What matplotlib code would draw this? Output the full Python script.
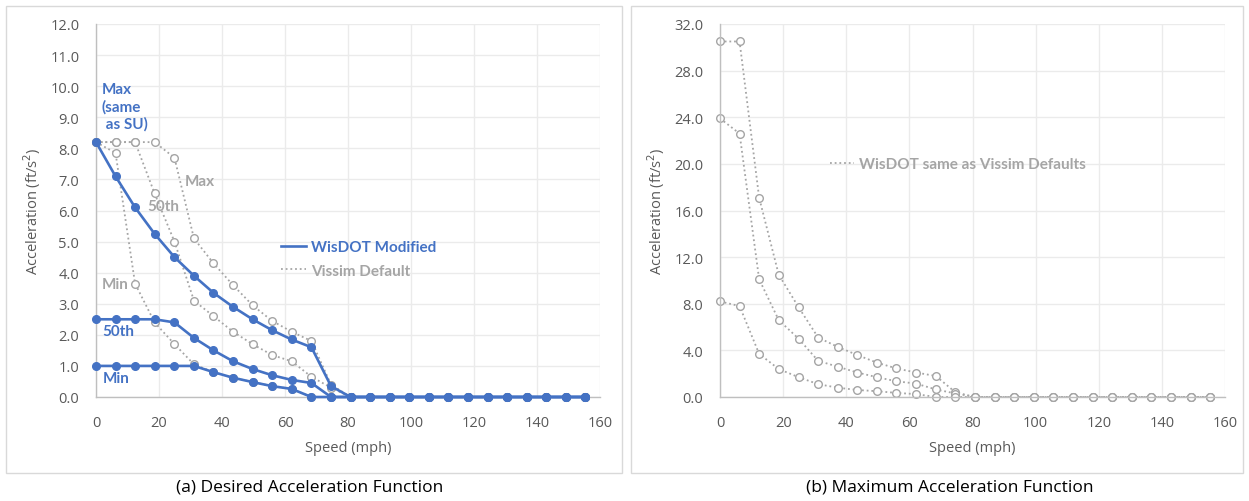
import matplotlib
matplotlib.use('Agg')
import matplotlib.pyplot as plt
from matplotlib.lines import Line2D
from matplotlib.patches import Rectangle

plt.rcParams['font.family'] = ['Open Sans', 'DejaVu Sans']

W, H = 1249, 502

speed = [0, 6.2, 12.4, 18.6, 24.9, 31.1, 37.3, 43.5, 49.7, 55.9, 62.1, 68.4, 74.6,
         80.8, 87.0, 93.2, 99.4, 105.6, 111.8, 118.1, 124.3, 130.5, 136.7, 142.9, 149.1, 155.3]
zeros13 = [0] * 13

# (a) desired acceleration
wis_max = [8.2, 7.1, 6.1, 5.25, 4.5, 3.9, 3.35, 2.9, 2.5, 2.15, 1.85, 1.6, 0.35] + zeros13
wis_50 = [2.5, 2.5, 2.5, 2.5, 2.4, 1.9, 1.5, 1.15, 0.9, 0.7, 0.55, 0.45, 0] + zeros13
wis_min = [1.0, 1.0, 1.0, 1.0, 1.0, 1.0, 0.8, 0.62, 0.48, 0.35, 0.26, 0, 0] + zeros13

vis_max = [8.2, 8.2, 8.2, 8.2, 7.7, 5.1, 4.3, 3.6, 2.95, 2.45, 2.1, 1.8, 0.4] + zeros13
vis_50 = [8.2, 8.2, 8.2, 6.55, 5.0, 3.1, 2.6, 2.1, 1.7, 1.35, 1.15, 0.65, 0.3] + zeros13
vis_min = [8.2, 7.85, 3.65, 2.4, 1.7, 1.05, 0.8, 0.62, 0.48, 0.35, 0.26, 0, 0] + zeros13

# (b) maximum acceleration
mx_max = [30.5, 30.5, 17.1, 10.5, 7.7, 5.1, 4.3, 3.6, 2.95, 2.45, 2.1, 1.8, 0.4] + zeros13
mx_50 = [23.9, 22.6, 10.1, 6.6, 5.0, 3.1, 2.6, 2.1, 1.7, 1.35, 1.15, 0.65, 0.3] + zeros13
mx_min = [8.2, 7.8, 3.7, 2.4, 1.7, 1.1, 0.8, 0.6, 0.5, 0.35, 0.25, 0, 0] + zeros13

blue = '#4472C4'
gray = '#A5A5A5'
txtgray = '#595959'
dots = (0, (1, 1.6))
bold = ['Lato', 'DejaVu Sans']


def rect(l, t, r, b):
    return [l / W, 1 - b / H, (r - l) / W, (b - t) / H]


def style(ax, ymax, ystep):
    ax.set_xlim(0, 160)
    ax.set_ylim(0, ymax)
    ax.set_xticks(range(0, 161, 20))
    ticks = [i * ystep for i in range(int(round(ymax / ystep)) + 1)]
    ax.set_yticks(ticks)
    ax.set_yticklabels(['%.1f' % t for t in ticks])
    ax.grid(True, color='#EBEBEB', lw=1)
    ax.set_axisbelow(True)
    for s in ['top', 'right']:
        ax.spines[s].set_visible(False)
    for s in ['left', 'bottom']:
        ax.spines[s].set_color('#BFBFBF')
        ax.spines[s].set_linewidth(1)
    ax.tick_params(axis='both', length=0, labelsize=10.5, colors=txtgray)
    ax.tick_params(axis='x', pad=13)
    ax.tick_params(axis='y', pad=12)
    ax.set_xlabel('Speed (mph)', fontsize=10.5, color=txtgray, labelpad=7)
    ax.set_ylabel('Acceleration (ft/s$^{2}$)', fontsize=10.5, color=txtgray, labelpad=5)


fig = plt.figure(figsize=(W / 100, H / 100), dpi=100)
fig.patches.append(Rectangle((6 / W, 1 - 474 / H), (622 - 6) / W, (474 - 7) / H,
                             transform=fig.transFigure, fill=False, ec='#D9D9D9', lw=1))
fig.patches.append(Rectangle((631 / W, 1 - 474 / H), (1243 - 631) / W, (474 - 7) / H,
                             transform=fig.transFigure, fill=False, ec='#D9D9D9', lw=1))

ax1 = fig.add_axes(rect(96, 25, 600, 398))
style(ax1, 12, 1)
for ys in [vis_max, vis_50, vis_min]:
    ax1.plot(speed, ys, color=gray, lw=1.3, ls=dots, marker='o', ms=5.5,
             mfc='white', mec=gray, mew=1, clip_on=False, zorder=2)
for ys in [wis_max, wis_50, wis_min]:
    ax1.plot(speed, ys, color=blue, lw=1.9, marker='o', ms=5.5,
             mfc=blue, mec=blue, clip_on=False, zorder=3)

ax1.text(1.9, 9.35, 'Max\n(same\n as SU)', color=blue, fontsize=11, fontweight='bold',
         ha='left', va='center', linespacing=1.25, family=bold)
ax1.text(28.3, 6.95, 'Max', color=gray, fontsize=11, fontweight='bold', ha='left', va='center', family=bold)
ax1.text(16.4, 6.15, '50th', color=gray, fontsize=11, fontweight='bold', ha='left', va='center', family=bold)
ax1.text(1.8, 3.63, 'Min', color=gray, fontsize=11, fontweight='bold', ha='left', va='center', family=bold)
ax1.text(2.1, 2.13, '50th', color=blue, fontsize=11, fontweight='bold', ha='left', va='center', family=bold)
ax1.text(2.1, 0.6, 'Min', color=blue, fontsize=11, fontweight='bold', ha='left', va='center', family=bold)

h1 = [Line2D([], [], color=blue, lw=1.9), Line2D([], [], color=gray, lw=1.3, ls=dots)]
ax1.legend(h1, ['WisDOT Modified', 'Vissim Default'], loc='center left',
           bbox_to_anchor=(0.34, 0.37), frameon=False, handlelength=1.6, handletextpad=0.35,
           labelspacing=0.6, labelcolor=[blue, gray],
           prop={'size': 11, 'weight': 'bold', 'family': bold})

ax2 = fig.add_axes(rect(720, 25, 1225, 398))
style(ax2, 32, 4)
for ys in [mx_max, mx_50, mx_min]:
    ax2.plot(speed, ys, color=gray, lw=1.3, ls=dots, marker='o', ms=5.5,
             mfc='white', mec=gray, mew=1, clip_on=False, zorder=2)
h2 = [Line2D([], [], color=gray, lw=1.3, ls=dots)]
ax2.legend(h2, ['WisDOT same as Vissim Defaults'], loc='center left',
           bbox_to_anchor=(0.19, 0.625), frameon=False, handlelength=1.6, handletextpad=0.35,
           labelcolor=[gray], prop={'size': 11, 'weight': 'bold', 'family': bold})

fig.text(310 / W, 1 - 488 / H, '(a) Desired Acceleration Function', fontsize=12.5,
         ha='center', va='center', color='black')
fig.text(950 / W, 1 - 488 / H, '(b) Maximum Acceleration Function', fontsize=12.5,
         ha='center', va='center', color='black')

fig.savefig('out.png', dpi=100, facecolor='white')
